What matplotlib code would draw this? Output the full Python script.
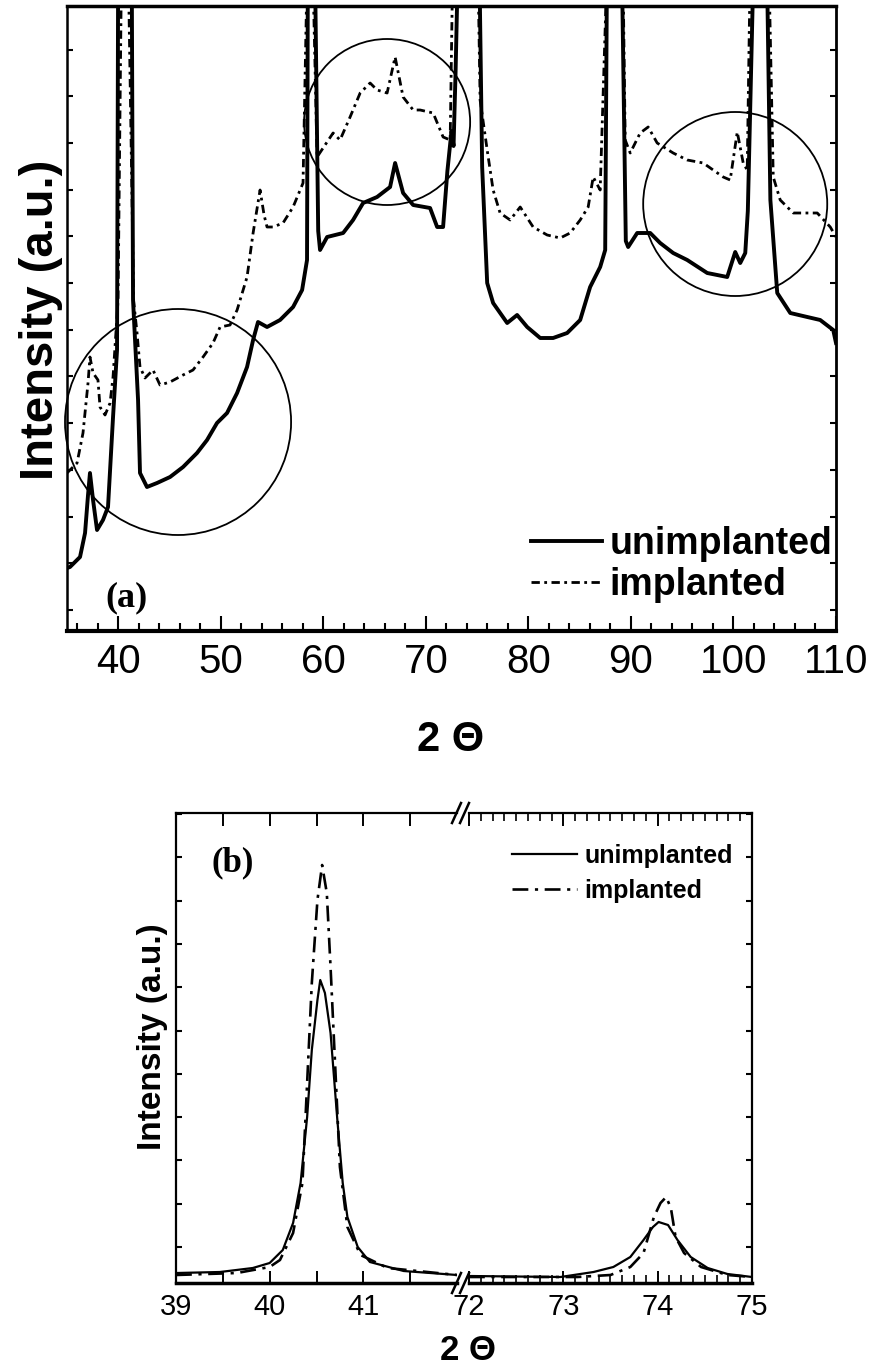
import numpy as np
import matplotlib
matplotlib.use("Agg")
import matplotlib.pyplot as plt
from matplotlib.patches import Ellipse
from matplotlib.ticker import MultipleLocator, FixedLocator
from matplotlib.lines import Line2D

# ---- panel (a): wide scan, intensity in a.u. (axis spans 0..625) ----
tt_a_unimp = [35.0, 35.29, 36.27, 36.76, 37.05, 37.24, 37.54, 37.93, 38.51, 39.0,
              39.49, 39.88, 40.0, 40.55, 41.3, 41.44, 41.93, 42.12, 42.80, 43.78,
              45.05, 46.32, 47.68, 48.66, 49.63, 50.61, 51.59, 52.56, 53.15, 53.63,
              54.51, 55.78, 57.05, 57.93, 58.41, 58.5, 58.75, 59.2, 59.5, 59.68,
              60.37, 61.93, 62.90, 63.88, 65.24, 66.51, 67.0, 67.78, 68.76, 70.41,
              71.10, 71.68, 72.1, 72.5, 72.7, 72.9, 73.2, 74.0, 74.9, 75.49,
              75.98, 76.56, 77.93, 78.90, 79.88, 81.15, 82.41, 83.78, 85.05, 86.02,
              87.0, 87.49, 87.65, 88.4, 89.15, 89.5, 89.73, 90.61, 91.88, 92.85,
              94.12, 95.49, 97.44, 99.39, 100.17, 100.66, 101.15, 101.4, 101.9, 102.7,
              103.3, 103.6, 104.27, 105.54, 107.20, 108.46, 109.73, 110.0]
int_a_unimp = [63, 64, 74, 98, 136, 158, 131, 101, 111, 124,
               214, 281, 700, 3000, 700, 331, 231, 158, 144, 148,
               154, 164, 178, 191, 208, 218, 238, 264, 291, 309,
               304, 311, 324, 341, 371, 700, 2500, 650, 400, 381,
               394, 398, 411, 428, 434, 444, 468, 438, 426, 423,
               404, 404, 460, 500, 485, 560, 700, 4000, 900, 464,
               348, 328, 308, 316, 304, 293, 293, 298, 311, 344,
               364, 381, 640, 3000, 640, 390, 384, 398, 398, 388,
               378, 371, 358, 354, 379, 368, 378, 420, 640, 3000,
               640, 431, 338, 318, 314, 311, 301, 288]

tt_a_imp = [35.0, 35.98, 36.56, 37.05, 37.24, 37.54, 38.02, 38.22, 38.71, 39.20,
            39.49, 39.98, 40.3, 40.6, 41.0, 41.5, 41.83, 42.12, 42.61, 43.39,
            44.07, 45.05, 46.32, 47.29, 48.27, 49.24, 49.93, 50.90, 51.59, 52.56,
            53.15, 53.83, 54.22, 54.51, 55.10, 56.07, 57.05, 58.02, 58.4, 58.7,
            59.0, 59.39, 60.95, 61.63, 62.61, 63.59, 64.56, 65.24, 66.22, 67.0,
            67.78, 68.76, 69.44, 70.71, 71.68, 72.37, 72.6, 74.0, 75.1, 75.29,
            75.98, 76.56, 77.24, 78.22, 79.20, 80.46, 81.83, 83.10, 84.07, 85.05,
            85.83, 86.32, 87.0, 87.6, 88.4, 89.25, 89.44, 89.93, 90.90, 91.68,
            92.56, 94.12, 95.49, 97.05, 98.02, 99.0, 99.68, 100.37, 100.95, 101.34,
            101.6, 102.6, 103.5, 103.88, 104.56, 105.83, 108.17, 109.44, 110.0]
int_a_imp = [158, 168, 198, 248, 274, 258, 251, 224, 216, 228,
             254, 331, 650, 4000, 650, 330, 298, 264, 253, 261,
             246, 249, 256, 261, 274, 288, 304, 306, 321, 354,
             398, 441, 416, 404, 404, 408, 424, 448, 650, 2500,
             650, 474, 498, 491, 514, 538, 548, 541, 538, 574,
             534, 521, 521, 518, 494, 491, 650, 5000, 650, 531,
             481, 441, 418, 411, 424, 404, 396, 393, 398, 411,
             424, 454, 441, 640, 3000, 640, 491, 478, 498, 504,
             488, 478, 471, 468, 461, 454, 451, 499, 468, 461,
             640, 3000, 640, 454, 431, 418, 418, 404, 394]

# circles marking regions of interest: (2theta centre, intensity centre, radius in px)
circle_x = [45.83, 66.22, 100.17]
circle_y = [209, 509, 427]
circle_r = [113, 83, 92]

# ---- panel (b): zoomed peaks, broken x axis ----
tt_b_left_unimp = [39.01, 39.47, 39.82, 40.0, 40.14, 40.25, 40.33, 40.40, 40.45, 40.51,
                   40.54, 40.59, 40.65, 40.72, 40.78, 40.83, 40.94, 41.07, 41.43, 42.0]
int_b_left_unimp = [10, 11, 15, 20, 33, 60, 100, 166, 233, 283,
                    303, 290, 250, 166, 100, 66, 36, 21, 12, 8]
tt_b_left_imp = [39.0, 39.65, 40.0, 40.11, 40.25, 40.35, 40.40, 40.45, 40.51, 40.56,
                 40.61, 40.65, 40.70, 40.75, 40.83, 40.97, 41.26, 42.0]
int_b_left_imp = [8, 10, 16, 23, 50, 100, 200, 300, 383, 418,
                  390, 316, 216, 116, 56, 28, 15, 8]
tt_b_right_unimp = [72.0, 72.97, 73.32, 73.53, 73.71, 73.85, 73.95, 74.01, 74.11, 74.21,
                    74.35, 74.53, 74.74, 75.0]
int_b_right_unimp = [7, 6, 11, 16, 26, 43, 56, 61, 58, 43, 26, 15, 9, 6]
tt_b_right_imp = [72.0, 73.15, 73.50, 73.71, 73.85, 73.96, 74.03, 74.09, 74.14, 74.19,
                  74.28, 74.46, 74.74, 75.0]
int_b_right_imp = [6, 6, 8, 16, 30, 66, 80, 86, 75, 46, 30, 16, 8, 6]

W, H = 877, 1369
fig = plt.figure(figsize=(W / 100, H / 100), dpi=100)

sans = ['Liberation Sans', 'DejaVu Sans']
serif = ['Liberation Serif', 'DejaVu Serif']
plt.rcParams['font.family'] = sans

dashdot_a = (0, (3, 1.6, 1, 1.6))
dashdot_b = (0, (6, 2.5, 1.2, 2.5))

# ================= panel (a) =================
ax = fig.add_axes([67 / W, 1 - 631 / H, 769 / W, 625 / H])
ax.plot(tt_a_unimp, int_a_unimp, color='black', lw=2.8, label='unimplanted')
ax.plot(tt_a_imp, int_a_imp, color='black', lw=2.0, ls=dashdot_a, label='implanted')
for cx, cy, r in zip(circle_x, circle_y, circle_r):
    ax.add_patch(Ellipse((cx, cy), width=2 * r / 10.25, height=2 * r,
                         fill=False, lw=1.3, color='black', clip_on=False))
ax.set_xlim(35, 110)
ax.set_ylim(0, 625)
ax.xaxis.set_major_locator(MultipleLocator(10))
ax.xaxis.set_minor_locator(MultipleLocator(2))
ax.yaxis.set_major_locator(MultipleLocator(46.7, offset=21))
ax.tick_params(axis='x', which='major', direction='in', length=11, width=1.5,
               pad=9, labelsize=29, top=False)
ax.tick_params(axis='x', which='minor', direction='in', length=6, width=1.5, top=False)
ax.tick_params(axis='y', which='major', direction='in', length=4, width=1.5,
               left=True, right=True, labelleft=False)
ax.spines['bottom'].set_linewidth(3)
ax.spines['top'].set_linewidth(2.5)
ax.spines['left'].set_linewidth(1.8)
ax.spines['right'].set_linewidth(2)
ax.legend(loc='lower right', bbox_to_anchor=(0.995, 0.045), frameon=False,
          handlelength=1.9, handletextpad=0.2, labelspacing=0.12, borderpad=0,
          borderaxespad=0, prop={'family': sans, 'weight': 'bold', 'size': 27})
ax.text(40.76, 33, '(a)', ha='center', va='center', fontsize=26, fontweight='bold',
        family=serif)

fig.text(41 / W, 1 - 320 / H, 'Intensity (a.u.)', rotation=90, ha='center', va='center',
         fontsize=34, fontweight='bold', family=sans)
fig.text(451 / W, 1 - 740 / H, '2 \u0398', ha='center', va='center',
         fontsize=30, fontweight='bold', family=sans)

# ================= panel (b) =================
axl = fig.add_axes([176 / W, 1 - 1283 / H, 281 / W, 470 / H])
axr = fig.add_axes([469 / W, 1 - 1283 / H, 283 / W, 470 / H], sharey=axl)

l1, = axl.plot(tt_b_left_unimp, int_b_left_unimp, color='black', lw=1.6, label='unimplanted')
l2, = axl.plot(tt_b_left_imp, int_b_left_imp, color='black', lw=1.9, ls=dashdot_b, label='implanted')
axr.plot(tt_b_right_unimp, int_b_right_unimp, color='black', lw=1.6)
axr.plot(tt_b_right_imp, int_b_right_imp, color='black', lw=1.9, ls=dashdot_b)

axl.set_xlim(39, 42)
axr.set_xlim(72, 75)
axl.set_ylim(0, 470)

axl.xaxis.set_major_locator(FixedLocator([39, 40, 41]))
axl.xaxis.set_minor_locator(FixedLocator([39.5, 40.5, 41.5]))
axr.xaxis.set_major_locator(MultipleLocator(1))
axr.xaxis.set_minor_locator(MultipleLocator(0.125))
axl.yaxis.set_major_locator(MultipleLocator(43.3, offset=36))

axl.spines['right'].set_visible(False)
axr.spines['left'].set_visible(False)
for a in (axl, axr):
    for s in a.spines.values():
        s.set_linewidth(1.6)
    a.spines['bottom'].set_linewidth(2.5)
    a.tick_params(axis='x', which='major', direction='in', length=9, width=1.4,
                  pad=7, labelsize=21, top=True)
axl.tick_params(axis='x', which='minor', direction='in', length=9, width=1.4, top=True)
axr.tick_params(axis='x', which='minor', direction='in', length=6, width=1.2, top=True)
axl.tick_params(axis='y', which='major', direction='in', length=4, width=1.5,
                left=True, right=False, labelleft=False)
axr.tick_params(axis='y', which='major', direction='in', length=4, width=1.5,
                left=False, right=True, labelleft=False, labelright=False)

axr.legend(handles=[l1, l2], loc='upper left', bbox_to_anchor=(0.152, 0.935),
           frameon=False, handlelength=2.6, handletextpad=0.3, labelspacing=0.45,
           borderpad=0, borderaxespad=0,
           prop={'family': sans, 'weight': 'bold', 'size': 18})
axl.text(39.61, 420, '(b)', ha='center', va='center', fontsize=25,
         fontweight='bold', family=serif)

# break marks
for yb in (813, 1283):
    for x0 in (452, 460):
        fig.add_artist(Line2D([x0 / W, (x0 + 9) / W], [1 - (yb + 10) / H, 1 - (yb - 10) / H],
                              color='black', lw=1.8, transform=fig.transFigure))

fig.text(153 / W, 1 - 1037 / H, 'Intensity (a.u.)', rotation=90, ha='center', va='center',
         fontsize=24, fontweight='bold', family=sans)
fig.text(468 / W, 1 - 1350 / H, '2 \u0398', ha='center', va='center',
         fontsize=25, fontweight='bold', family=sans)

fig.savefig('out.png', dpi=100)
